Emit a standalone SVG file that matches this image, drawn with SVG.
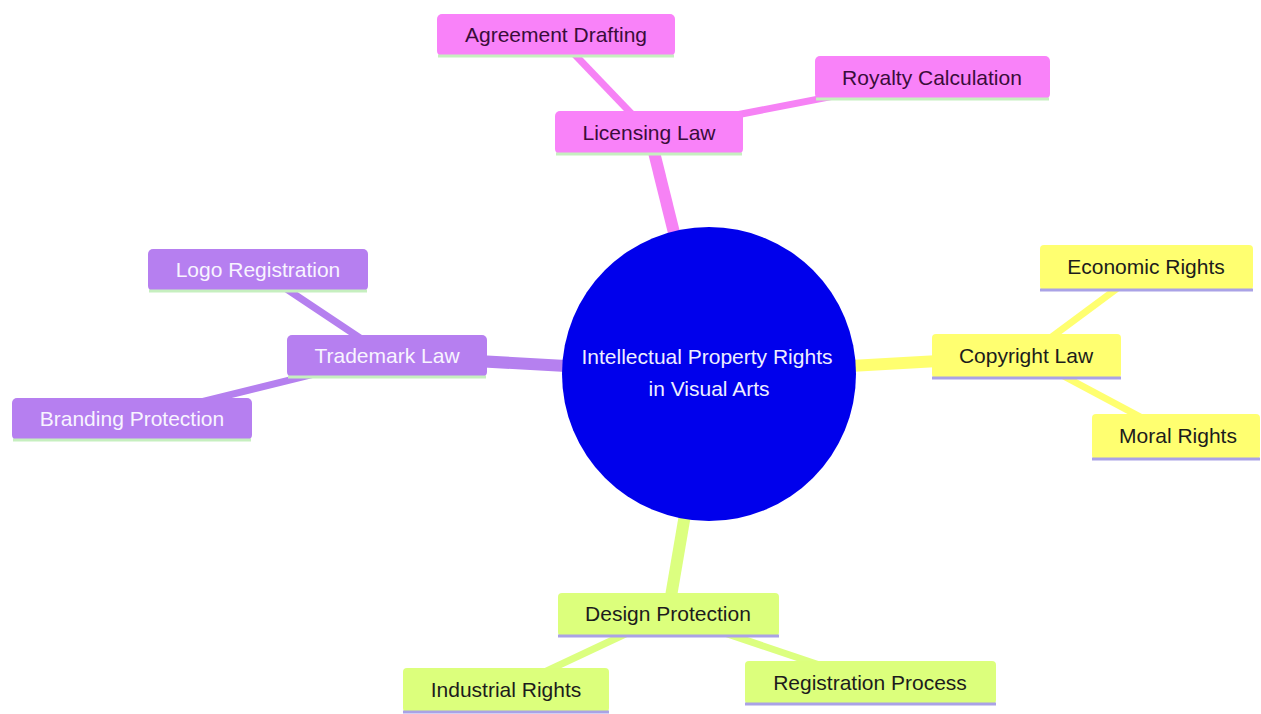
<svg xmlns="http://www.w3.org/2000/svg" width="1261" height="714" viewBox="0 0 1261 714">
<style>
text{font-family:"Liberation Sans",Arial,sans-serif;font-size:21px;text-anchor:middle}
.e{fill:none;stroke-linecap:butt}
.d1{stroke-width:12}
.d2{stroke-width:7}
.pk{fill:#f982f9}
.pu{fill:#b67ff0}
.ye{fill:#ffff70}
.gr{fill:#dcff7c}
.epk{stroke:#f682f5}
.epu{stroke:#b580ef}
.eye{stroke:#ffff70}
.egr{stroke:#dcff80}
.tpk{fill:#3a0d3a}
.tpu{fill:#f8f4ff}
.tdk{fill:#1c1c1c}
.bl{stroke-width:3}
.bgreen{stroke:#c6efbf}
.blav{stroke:#aaa2e6}
</style>
<rect width="1261" height="714" fill="#ffffff"/>
<g id="connectors">
<line class="e d1 epk" x1="709" y1="374" x2="649" y2="132"/>
<line class="e d2 epk" x1="649" y1="132" x2="556" y2="35"/>
<line class="e d2 epk" x1="649" y1="132" x2="932" y2="77"/>
<line class="e d1 epu" x1="709" y1="374" x2="387" y2="356"/>
<line class="e d2 epu" x1="387" y1="356" x2="258" y2="270"/>
<line class="e d2 epu" x1="387" y1="356" x2="132" y2="419"/>
<line class="e d1 eye" x1="709" y1="374" x2="1026" y2="356"/>
<line class="e d2 eye" x1="1026" y1="356" x2="1146" y2="267"/>
<line class="e d2 eye" x1="1026" y1="356" x2="1176" y2="436"/>
<line class="e d1 egr" x1="709" y1="374" x2="668" y2="614"/>
<line class="e d2 egr" x1="668" y1="614" x2="506" y2="690"/>
<line class="e d2 egr" x1="668" y1="614" x2="870" y2="682"/>
</g>
<g id="root">
<circle cx="709" cy="374" r="147" fill="#0000ec"/>
<text x="707" y="364" fill="#eeeeff">Intellectual Property Rights</text>
<text x="709" y="396" fill="#eeeeff">in Visual Arts</text>
</g>
<g id="licensing">
<rect class="pk" x="555" y="111" width="188" height="43" rx="5"/>
<line class="bl bgreen" x1="556" y1="154" x2="742" y2="154"/>
<text class="tpk" x="649" y="140">Licensing Law</text>
</g>
<g id="agreement">
<rect class="pk" x="437" y="14" width="238" height="42" rx="5"/>
<line class="bl bgreen" x1="438" y1="56" x2="674" y2="56"/>
<text class="tpk" x="556" y="42">Agreement Drafting</text>
</g>
<g id="royalty">
<rect class="pk" x="815" y="56" width="235" height="43" rx="5"/>
<line class="bl bgreen" x1="816" y1="99" x2="1049" y2="99"/>
<text class="tpk" x="932" y="85">Royalty Calculation</text>
</g>
<g id="trademark">
<rect class="pu" x="287" y="335" width="200" height="42" rx="5"/>
<line class="bl bgreen" x1="288" y1="377" x2="486" y2="377"/>
<text class="tpu" x="387" y="363">Trademark Law</text>
</g>
<g id="logo">
<rect class="pu" x="148" y="249" width="220" height="42" rx="5"/>
<line class="bl bgreen" x1="149" y1="291" x2="367" y2="291"/>
<text class="tpu" x="258" y="277">Logo Registration</text>
</g>
<g id="branding">
<rect class="pu" x="12" y="398" width="240" height="42" rx="5"/>
<line class="bl bgreen" x1="13" y1="440" x2="251" y2="440"/>
<text class="tpu" x="132" y="426">Branding Protection</text>
</g>
<g id="copyright">
<rect class="ye" x="932" y="334" width="189" height="44" rx="4"/>
<line class="bl blav" x1="932" y1="378" x2="1121" y2="378"/>
<text class="tdk" x="1026" y="363">Copyright Law</text>
</g>
<g id="economic">
<rect class="ye" x="1040" y="245" width="213" height="45" rx="4"/>
<line class="bl blav" x1="1040" y1="290" x2="1253" y2="290"/>
<text class="tdk" x="1146" y="274">Economic Rights</text>
</g>
<g id="moral">
<rect class="ye" x="1092" y="414" width="168" height="45" rx="4"/>
<line class="bl blav" x1="1092" y1="459" x2="1260" y2="459"/>
<text class="tdk" x="1178" y="443">Moral Rights</text>
</g>
<g id="design">
<rect class="gr" x="558" y="593" width="221" height="43" rx="4"/>
<line class="bl blav" x1="558" y1="636" x2="779" y2="636"/>
<text class="tdk" x="668" y="621">Design Protection</text>
</g>
<g id="industrial">
<rect class="gr" x="403" y="668" width="206" height="44" rx="4"/>
<line class="bl blav" x1="403" y1="712" x2="609" y2="712"/>
<text class="tdk" x="506" y="697">Industrial Rights</text>
</g>
<g id="registration">
<rect class="gr" x="745" y="661" width="251" height="43" rx="4"/>
<line class="bl blav" x1="745" y1="704" x2="996" y2="704"/>
<text class="tdk" x="870" y="690">Registration Process</text>
</g>
</svg>
